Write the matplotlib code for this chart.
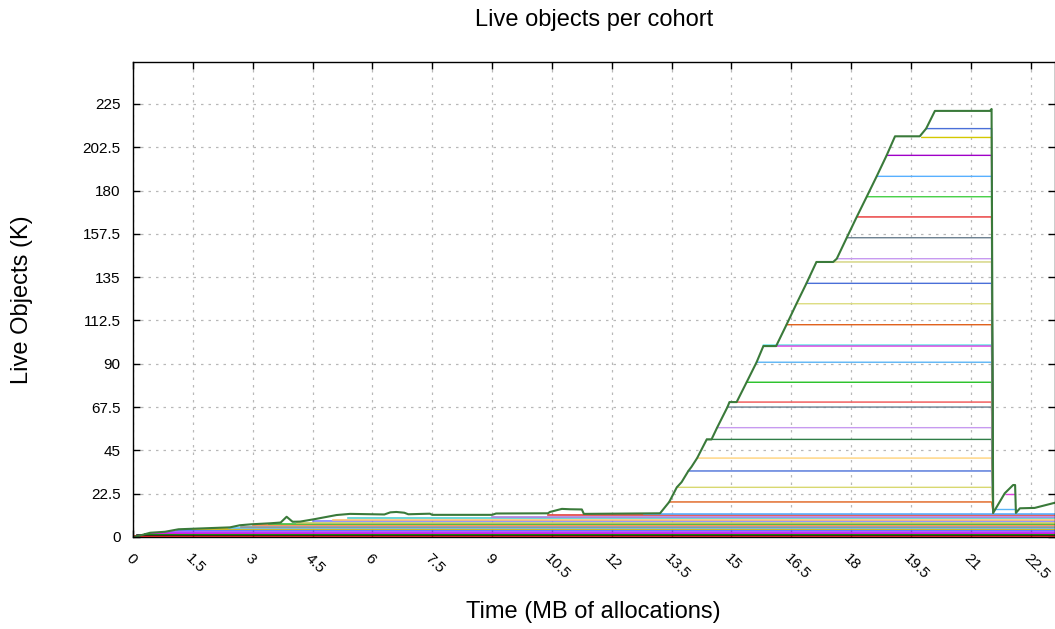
import matplotlib
matplotlib.use("Agg")
import matplotlib.pyplot as plt
import numpy as np

plt.rcParams['font.family'] = ['Liberation Sans', 'DejaVu Sans']

# ---- data (K live objects, x in MB of allocations) ----
# envelope (sum of all cohorts)
total_t = [0.0, 0.13, 0.43, 0.8, 1.14, 2.43, 2.68, 2.97, 3.43, 3.7, 3.85, 4.0, 4.19,
           4.56, 5.1, 5.44, 6.3, 6.45, 6.6, 6.8, 6.9, 7.44, 7.5, 9.0, 9.1, 10.4,
           10.45, 10.75, 10.95, 11.25, 11.3, 13.21, 13.44, 13.63, 13.75, 13.92,
           14.0, 14.14, 14.38, 14.5, 14.64, 14.9, 14.95, 15.13, 15.38, 15.63,
           15.8, 16.12, 16.38, 16.63, 16.88, 17.13, 17.55, 17.64, 17.89, 18.14,
           18.39, 18.64, 18.89, 19.1, 19.72, 19.88, 20.1, 21.48, 21.52, 21.56,
           21.85, 22.06, 22.11, 22.13, 22.23, 22.6, 23.11]
total_v = [0.0, 0.5, 2.2, 2.7, 4.0, 5.0, 6.1, 6.6, 7.1, 7.5, 10.5, 7.9, 8.0,
           9.3, 11.4, 12.0, 11.7, 12.8, 13.0, 12.6, 11.8, 12.1, 11.5, 11.5, 12.2, 12.3,
           13.0, 14.6, 14.4, 14.3, 12.0, 12.3, 18.2, 25.8, 28.5, 34.3,
           36.5, 41.0, 50.7, 50.7, 56.8, 67.5, 70.1, 70.1, 80.4, 90.8,
           99.2, 99.2, 110.3, 121.2, 131.8, 142.9, 142.9, 144.6, 155.5, 166.3,
           176.8, 187.4, 198.3, 208.2, 208.2, 212.2, 221.4, 221.4, 222.4, 12.5,
           22.7, 27.0, 27.0, 12.5, 14.9, 15.1, 17.8]

# old cohorts sitting at the bottom of the stack (cumulative level, first seen)
low_level = [0.4, 1.0, 1.6, 2.2, 2.8, 3.5, 4.0, 4.6, 5.3, 6.0, 6.6, 7.4, 8.2,
             9.0, 9.8, 10.6, 11.3, 12.0]
low_start = [0.0, 0.1, 0.3, 0.45, 0.8, 1.1, 1.5, 2.4, 2.7, 3.0, 3.4, 4.1, 4.5,
             5.0, 5.4, 9.0, 10.4, 12.8]

# cohorts created during the ramp (cumulative level, start), all die at ~21.5
ramp_level = [18.2, 25.8, 34.3, 41.0, 50.7, 56.8, 67.5, 70.1, 80.4, 90.8, 99.7,
              99.2, 110.3, 121.2, 131.8, 142.9, 144.6, 155.5, 166.3, 176.8, 187.4,
              198.3, 207.6, 212.2]
ramp_start = [13.44, 13.63, 13.92, 14.14, 14.38, 14.64, 14.9, 15.13, 15.38, 15.63,
              15.8, 16.12, 16.38, 16.63, 16.88, 17.13, 17.64, 17.89, 18.14, 18.39,
              18.64, 18.89, 19.77, 19.88]
death_t = 21.52

# short-lived cohorts after the collapse
late_level = [14.4, 22.5]
late_start = [21.6, 21.88]
late_end = [22.12, 22.1]

xticks = np.arange(0, 23, 1.5)
yticks = np.arange(0, 226, 22.5)

low_colors = ['#ff0000', '#202020', '#00a000', '#ff00ff', '#a040ff', '#4060ff',
              '#e0c000', '#60c0ff', '#909090', '#ff8040', '#40c040', '#c8c860',
              '#8080ff', '#ffc070', '#50d0d0', '#b080e0', '#e04040', '#58b0ff']
ramp_colors = ['#e0601a', '#d8d870', '#4a6fd8', '#ffd27a', '#2f7d46', '#c79af0',
               '#6a7f8f', '#f05050', '#22c022', '#5ab4f5', '#40e0e0', '#e040e0',
               '#e0601a', '#dcdc80', '#4a6fd8', '#d2d27a', '#c79af0', '#6a7f8f',
               '#e83030', '#44d044', '#58b0ff', '#a000c8', '#d4c800', '#4a6fd8']
late_colors = ['#5ab4f5', '#e040e0']

fig = plt.figure(figsize=(10.55, 6.29), dpi=100)
ax = fig.add_axes([0.1261, 0.1463, 0.8739, 0.7551])

xmax = 23.11
for lv, st, c in zip(low_level, low_start, low_colors):
    ax.plot([st, xmax], [lv, lv], color=c, lw=1.2)

for lv, st, c in zip(ramp_level, ramp_start, ramp_colors):
    ax.plot([st, death_t, death_t + 0.04], [lv, lv, 12.5], color=c, lw=1.0)

for lv, st, en, c in zip(late_level, late_start, late_end, late_colors):
    ax.plot([st, en], [lv, lv], color=c, lw=1.0)

ax.plot(total_t, total_v, color='#3a7a3a', lw=1.5)

ax.set_xlim(0, xmax)
ax.set_ylim(0, 246.8)
ax.set_xticks(xticks)
ax.set_yticks(yticks)
ax.set_xticklabels(['%g' % v for v in xticks], rotation=-45, ha='left', va='top',
                   rotation_mode='anchor', fontsize=11)
ax.set_yticklabels(['%g' % v for v in yticks], fontsize=11)
ax.tick_params(direction='in', length=5, width=1, top=True, right=True,
               pad=9, colors='black')
ax.tick_params(axis='x', pad=10)
ax.grid(True, color='#b8b8b8', linestyle=(0, (2, 4)), lw=0.9)
for s in ax.spines.values():
    s.set_linewidth(1.0)

fig.text(0.563, 0.968, 'Live objects per cohort', ha='center', va='center', fontsize=17)
fig.text(0.562, 0.027, 'Time (MB of allocations)', ha='center', va='center', fontsize=17)
fig.text(0.021, 0.523, 'Live Objects (K)', ha='center', va='center', rotation=90, fontsize=17)

fig.savefig('out.png', dpi=100)
